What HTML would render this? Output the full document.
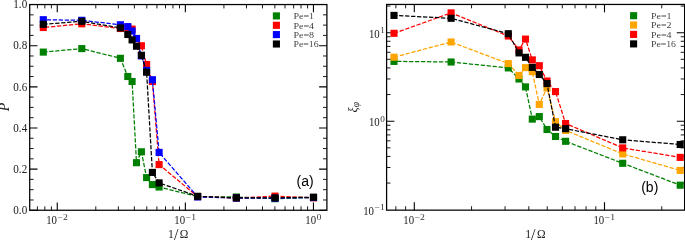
<!DOCTYPE html>
<html><head><meta charset="utf-8"><title>P and xi vs 1/Omega</title>
<style>html,body{margin:0;padding:0;background:#fff}svg{display:block}</style>
</head><body>
<svg width="685" height="241" viewBox="0 0 685 241" font-family='"Liberation Serif", serif' fill="#000">
<rect width="685" height="241" fill="#fff"/>
<path d="M57.25 210.25v-7.8M57.25 4.55v7.8M185.35 210.25v-7.8M185.35 4.55v7.8M313.45 210.25v-7.8M313.45 4.55v7.8" stroke="#000" stroke-width="1.1" fill="none"/>
<path d="M37.41 210.25v-3.9M37.41 4.55v3.9M44.84 210.25v-3.9M44.84 4.55v3.9M51.39 210.25v-3.9M51.39 4.55v3.9M95.81 210.25v-3.9M95.81 4.55v3.9M118.37 210.25v-3.9M118.37 4.55v3.9M134.37 210.25v-3.9M134.37 4.55v3.9M146.79 210.25v-3.9M146.79 4.55v3.9M156.93 210.25v-3.9M156.93 4.55v3.9M165.51 210.25v-3.9M165.51 4.55v3.9M172.94 210.25v-3.9M172.94 4.55v3.9M179.49 210.25v-3.9M179.49 4.55v3.9M223.91 210.25v-3.9M223.91 4.55v3.9M246.47 210.25v-3.9M246.47 4.55v3.9M262.47 210.25v-3.9M262.47 4.55v3.9M274.89 210.25v-3.9M274.89 4.55v3.9M285.03 210.25v-3.9M285.03 4.55v3.9M293.61 210.25v-3.9M293.61 4.55v3.9M301.04 210.25v-3.9M301.04 4.55v3.9M307.59 210.25v-3.9M307.59 4.55v3.9" stroke="#000" stroke-width="0.9" fill="none"/>
<path d="M29.70 210.25h7.8M326.90 210.25h-7.8M29.70 169.11h7.8M326.90 169.11h-7.8M29.70 127.97h7.8M326.90 127.97h-7.8M29.70 86.83h7.8M326.90 86.83h-7.8M29.70 45.69h7.8M326.90 45.69h-7.8M29.70 4.55h7.8M326.90 4.55h-7.8" stroke="#000" stroke-width="1.1" fill="none"/>
<path d="M29.70 199.97h3.9M326.90 199.97h-3.9M29.70 189.68h3.9M326.90 189.68h-3.9M29.70 179.39h3.9M326.90 179.39h-3.9M29.70 158.82h3.9M326.90 158.82h-3.9M29.70 148.54h3.9M326.90 148.54h-3.9M29.70 138.25h3.9M326.90 138.25h-3.9M29.70 117.69h3.9M326.90 117.69h-3.9M29.70 107.40h3.9M326.90 107.40h-3.9M29.70 97.11h3.9M326.90 97.11h-3.9M29.70 76.55h3.9M326.90 76.55h-3.9M29.70 66.26h3.9M326.90 66.26h-3.9M29.70 55.98h3.9M326.90 55.98h-3.9M29.70 35.41h3.9M326.90 35.41h-3.9M29.70 25.12h3.9M326.90 25.12h-3.9M29.70 14.84h3.9M326.90 14.84h-3.9" stroke="#000" stroke-width="0.9" fill="none"/>
<g>
<polyline points="43.30,52.10 81.80,48.60 120.40,58.30 127.80,76.50 132.10,81.50 136.50,162.70 141.40,151.80 146.60,177.60 152.40,184.60 159.10,187.00 197.60,196.60" fill="none" stroke="#008000" stroke-width="1.25" stroke-dasharray="4.3 1.68" stroke-dashoffset="0"/><polyline points="197.60,196.60 236.40,197.00 275.00,198.70 313.50,197.50" fill="none" stroke="#008000" stroke-width="1.25" stroke-dasharray="4.3 1.68" stroke-dashoffset="0.75"/><rect x="39.75" y="48.55" width="7.1" height="7.1" fill="#008000"/><rect x="78.25" y="45.05" width="7.1" height="7.1" fill="#008000"/><rect x="116.85" y="54.75" width="7.1" height="7.1" fill="#008000"/><rect x="124.25" y="72.95" width="7.1" height="7.1" fill="#008000"/><rect x="128.55" y="77.95" width="7.1" height="7.1" fill="#008000"/><rect x="132.95" y="159.15" width="7.1" height="7.1" fill="#008000"/><rect x="137.85" y="148.25" width="7.1" height="7.1" fill="#008000"/><rect x="143.05" y="174.05" width="7.1" height="7.1" fill="#008000"/><rect x="148.85" y="181.05" width="7.1" height="7.1" fill="#008000"/><rect x="155.55" y="183.45" width="7.1" height="7.1" fill="#008000"/><rect x="194.05" y="193.05" width="7.1" height="7.1" fill="#008000"/><rect x="232.85" y="193.45" width="7.1" height="7.1" fill="#008000"/><rect x="271.45" y="195.15" width="7.1" height="7.1" fill="#008000"/><rect x="309.95" y="193.95" width="7.1" height="7.1" fill="#008000"/>
<polyline points="43.30,27.50 81.80,23.80 120.40,28.50 127.80,27.60 132.10,29.10 136.50,38.50 141.40,45.75 146.60,64.50 152.40,81.50 159.10,164.60 197.60,196.60" fill="none" stroke="#ff0000" stroke-width="1.25" stroke-dasharray="4.3 1.68" stroke-dashoffset="4.25"/><polyline points="197.60,196.60 236.40,198.00 275.00,196.10 313.50,197.80" fill="none" stroke="#ff0000" stroke-width="1.25" stroke-dasharray="4.3 1.68" stroke-dashoffset="0.75"/><rect x="39.75" y="23.95" width="7.1" height="7.1" fill="#ff0000"/><rect x="78.25" y="20.25" width="7.1" height="7.1" fill="#ff0000"/><rect x="116.85" y="24.95" width="7.1" height="7.1" fill="#ff0000"/><rect x="124.25" y="24.05" width="7.1" height="7.1" fill="#ff0000"/><rect x="128.55" y="25.55" width="7.1" height="7.1" fill="#ff0000"/><rect x="132.95" y="34.95" width="7.1" height="7.1" fill="#ff0000"/><rect x="137.85" y="42.20" width="7.1" height="7.1" fill="#ff0000"/><rect x="143.05" y="60.95" width="7.1" height="7.1" fill="#ff0000"/><rect x="148.85" y="77.95" width="7.1" height="7.1" fill="#ff0000"/><rect x="155.55" y="161.05" width="7.1" height="7.1" fill="#ff0000"/><rect x="194.05" y="193.05" width="7.1" height="7.1" fill="#ff0000"/><rect x="232.85" y="194.45" width="7.1" height="7.1" fill="#ff0000"/><rect x="271.45" y="192.55" width="7.1" height="7.1" fill="#ff0000"/><rect x="309.95" y="194.25" width="7.1" height="7.1" fill="#ff0000"/>
<polyline points="43.30,19.70 81.80,20.30 120.40,24.75 127.80,26.60 132.10,31.00 136.50,38.50 141.40,55.90 146.60,70.40 152.40,79.75 159.10,152.40 197.60,196.90" fill="none" stroke="#0000ff" stroke-width="1.25" stroke-dasharray="4.3 1.68" stroke-dashoffset="2.5"/><polyline points="197.60,196.90 236.40,198.00 275.00,198.20 313.50,197.50" fill="none" stroke="#0000ff" stroke-width="1.25" stroke-dasharray="4.3 1.68" stroke-dashoffset="0.75"/><rect x="39.75" y="16.15" width="7.1" height="7.1" fill="#0000ff"/><rect x="78.25" y="16.75" width="7.1" height="7.1" fill="#0000ff"/><rect x="116.85" y="21.20" width="7.1" height="7.1" fill="#0000ff"/><rect x="124.25" y="23.05" width="7.1" height="7.1" fill="#0000ff"/><rect x="128.55" y="27.45" width="7.1" height="7.1" fill="#0000ff"/><rect x="132.95" y="34.95" width="7.1" height="7.1" fill="#0000ff"/><rect x="137.85" y="52.35" width="7.1" height="7.1" fill="#0000ff"/><rect x="143.05" y="66.85" width="7.1" height="7.1" fill="#0000ff"/><rect x="148.85" y="76.20" width="7.1" height="7.1" fill="#0000ff"/><rect x="155.55" y="148.85" width="7.1" height="7.1" fill="#0000ff"/><rect x="194.05" y="193.35" width="7.1" height="7.1" fill="#0000ff"/><rect x="232.85" y="194.45" width="7.1" height="7.1" fill="#0000ff"/><rect x="271.45" y="194.65" width="7.1" height="7.1" fill="#0000ff"/><rect x="309.95" y="193.95" width="7.1" height="7.1" fill="#0000ff"/>
<polyline points="43.30,24.30 81.80,21.30 120.40,27.90 127.80,34.50 132.10,39.90 136.50,46.20 141.40,55.25 146.60,72.20 152.40,172.40 159.10,182.90 197.60,196.30" fill="none" stroke="#000000" stroke-width="1.25" stroke-dasharray="4.3 1.68" stroke-dashoffset="0"/><polyline points="197.60,196.30 236.40,197.90 275.00,197.90 313.50,197.20" fill="none" stroke="#000000" stroke-width="1.25" stroke-dasharray="4.3 1.68" stroke-dashoffset="0.75"/><rect x="39.75" y="20.75" width="7.1" height="7.1" fill="#000000"/><rect x="78.25" y="17.75" width="7.1" height="7.1" fill="#000000"/><rect x="116.85" y="24.35" width="7.1" height="7.1" fill="#000000"/><rect x="124.25" y="30.95" width="7.1" height="7.1" fill="#000000"/><rect x="128.55" y="36.35" width="7.1" height="7.1" fill="#000000"/><rect x="132.95" y="42.65" width="7.1" height="7.1" fill="#000000"/><rect x="137.85" y="51.70" width="7.1" height="7.1" fill="#000000"/><rect x="143.05" y="68.65" width="7.1" height="7.1" fill="#000000"/><rect x="148.85" y="168.85" width="7.1" height="7.1" fill="#000000"/><rect x="155.55" y="179.35" width="7.1" height="7.1" fill="#000000"/><rect x="194.05" y="192.75" width="7.1" height="7.1" fill="#000000"/><rect x="232.85" y="194.35" width="7.1" height="7.1" fill="#000000"/><rect x="271.45" y="194.35" width="7.1" height="7.1" fill="#000000"/><rect x="309.95" y="193.65" width="7.1" height="7.1" fill="#000000"/>
</g>
<rect x="29.7" y="4.55" width="297.20" height="205.70" fill="none" stroke="#000" stroke-width="1.25"/>
<text x="27.2" y="213.95" font-size="11.6" fill="#222" text-anchor="end" textLength="13.9" lengthAdjust="spacingAndGlyphs">0.0</text>
<text x="27.2" y="172.81" font-size="11.6" fill="#222" text-anchor="end" textLength="13.9" lengthAdjust="spacingAndGlyphs">0.2</text>
<text x="27.2" y="131.67" font-size="11.6" fill="#222" text-anchor="end" textLength="13.9" lengthAdjust="spacingAndGlyphs">0.4</text>
<text x="27.2" y="90.53" font-size="11.6" fill="#222" text-anchor="end" textLength="13.9" lengthAdjust="spacingAndGlyphs">0.6</text>
<text x="27.2" y="49.39" font-size="11.6" fill="#222" text-anchor="end" textLength="13.9" lengthAdjust="spacingAndGlyphs">0.8</text>
<text x="27.2" y="8.25" font-size="11.6" fill="#222" text-anchor="end" textLength="13.9" lengthAdjust="spacingAndGlyphs">1.0</text>
<text x="46.20" y="224.30" fill="#222" font-size="11.6" textLength="10.8" lengthAdjust="spacingAndGlyphs">10</text><text x="57.60" y="220.10" fill="#333" font-size="8.2" textLength="10.3" lengthAdjust="spacingAndGlyphs">−2</text>
<text x="174.30" y="224.30" fill="#222" font-size="11.6" textLength="10.8" lengthAdjust="spacingAndGlyphs">10</text><text x="185.70" y="220.10" fill="#333" font-size="8.2" textLength="10.3" lengthAdjust="spacingAndGlyphs">−1</text>
<text x="305.25" y="224.30" fill="#222" font-size="11.6" textLength="10.8" lengthAdjust="spacingAndGlyphs">10</text><text x="316.65" y="220.10" fill="#333" font-size="8.2" textLength="4.6" lengthAdjust="spacingAndGlyphs">0</text>
<text y="237.6" fill="#222" font-size="11.8"><tspan x="168.10">1</tspan><tspan x="174.00" dy="2.4" font-size="16">/</tspan><tspan x="179.80" dy="-2.4" font-size="11.8" textLength="8.6" lengthAdjust="spacingAndGlyphs">Ω</tspan></text>
<text transform="translate(8.9,107.0) rotate(-90)" fill="#222" font-size="14" font-style="italic" text-anchor="middle">P</text>
<rect x="272.85" y="12.35" width="7.1" height="7.1" fill="#008000"/>
<text x="293.4" y="19.1" font-size="9.2" fill="#444" textLength="20.7" lengthAdjust="spacingAndGlyphs">Pe=1</text>
<rect x="272.85" y="21.75" width="7.1" height="7.1" fill="#ff0000"/>
<text x="293.4" y="28.5" font-size="9.2" fill="#444" textLength="20.7" lengthAdjust="spacingAndGlyphs">Pe=4</text>
<rect x="272.85" y="31.05" width="7.1" height="7.1" fill="#0000ff"/>
<text x="293.4" y="37.9" font-size="9.2" fill="#444" textLength="20.7" lengthAdjust="spacingAndGlyphs">Pe=8</text>
<rect x="272.85" y="40.45" width="7.1" height="7.1" fill="#000000"/>
<text x="293.4" y="47.3" font-size="9.2" fill="#444" textLength="25.3" lengthAdjust="spacingAndGlyphs">Pe=16</text>
<text x="296.5" y="185.9" font-size="14" font-family='"Liberation Sans", sans-serif'>(a)</text>
<path d="M414.30 210.15v-7.8M414.30 4.45v7.8M604.50 210.15v-7.8M604.50 4.45v7.8" stroke="#000" stroke-width="1.1" fill="none"/>
<path d="M395.87 210.15v-3.9M395.87 4.45v3.9M405.60 210.15v-3.9M405.60 4.45v3.9M471.56 210.15v-3.9M471.56 4.45v3.9M505.05 210.15v-3.9M505.05 4.45v3.9M528.81 210.15v-3.9M528.81 4.45v3.9M547.24 210.15v-3.9M547.24 4.45v3.9M562.30 210.15v-3.9M562.30 4.45v3.9M575.04 210.15v-3.9M575.04 4.45v3.9M586.07 210.15v-3.9M586.07 4.45v3.9M595.80 210.15v-3.9M595.80 4.45v3.9M661.76 210.15v-3.9M661.76 4.45v3.9" stroke="#000" stroke-width="0.9" fill="none"/>
<path d="M386.60 121.20h7.8M684.60 121.20h-7.8M386.60 32.70h7.8M684.60 32.70h-7.8" stroke="#000" stroke-width="1.1" fill="none"/>
<path d="M386.60 183.06h3.9M684.60 183.06h-3.9M386.60 167.47h3.9M684.60 167.47h-3.9M386.60 156.42h3.9M684.60 156.42h-3.9M386.60 147.84h3.9M684.60 147.84h-3.9M386.60 140.83h3.9M684.60 140.83h-3.9M386.60 134.91h3.9M684.60 134.91h-3.9M386.60 129.78h3.9M684.60 129.78h-3.9M386.60 125.25h3.9M684.60 125.25h-3.9M386.60 94.56h3.9M684.60 94.56h-3.9M386.60 78.97h3.9M684.60 78.97h-3.9M386.60 67.92h3.9M684.60 67.92h-3.9M386.60 59.34h3.9M684.60 59.34h-3.9M386.60 52.33h3.9M684.60 52.33h-3.9M386.60 46.41h3.9M684.60 46.41h-3.9M386.60 41.28h3.9M684.60 41.28h-3.9M386.60 36.75h3.9M684.60 36.75h-3.9M386.60 6.06h3.9M684.60 6.06h-3.9" stroke="#000" stroke-width="0.9" fill="none"/>
<g>
<polyline points="394.00,61.40 451.10,62.00 508.30,67.90 519.00,79.00 525.50,86.90 532.30,119.10 539.30,116.60 547.00,129.50 555.50,136.50 565.60,141.30 622.70,163.30 680.20,185.20" fill="none" stroke="#008000" stroke-width="1.25" stroke-dasharray="4.3 1.68" stroke-dashoffset="2.85"/><rect x="390.45" y="57.85" width="7.1" height="7.1" fill="#008000"/><rect x="447.55" y="58.45" width="7.1" height="7.1" fill="#008000"/><rect x="504.75" y="64.35" width="7.1" height="7.1" fill="#008000"/><rect x="515.45" y="75.45" width="7.1" height="7.1" fill="#008000"/><rect x="521.95" y="83.35" width="7.1" height="7.1" fill="#008000"/><rect x="528.75" y="115.55" width="7.1" height="7.1" fill="#008000"/><rect x="535.75" y="113.05" width="7.1" height="7.1" fill="#008000"/><rect x="543.45" y="125.95" width="7.1" height="7.1" fill="#008000"/><rect x="551.95" y="132.95" width="7.1" height="7.1" fill="#008000"/><rect x="562.05" y="137.75" width="7.1" height="7.1" fill="#008000"/><rect x="619.15" y="159.75" width="7.1" height="7.1" fill="#008000"/><rect x="676.65" y="181.65" width="7.1" height="7.1" fill="#008000"/>
<polyline points="394.00,57.20 451.10,42.00 508.30,63.60 519.00,75.50 525.50,67.60 532.30,71.70 539.30,104.40 547.00,87.90 555.50,121.70 565.60,130.40 622.70,153.90 680.20,170.40" fill="none" stroke="#ffa500" stroke-width="1.25" stroke-dasharray="4.3 1.68" stroke-dashoffset="0"/><rect x="390.45" y="53.65" width="7.1" height="7.1" fill="#ffa500"/><rect x="447.55" y="38.45" width="7.1" height="7.1" fill="#ffa500"/><rect x="504.75" y="60.05" width="7.1" height="7.1" fill="#ffa500"/><rect x="515.45" y="71.95" width="7.1" height="7.1" fill="#ffa500"/><rect x="521.95" y="64.05" width="7.1" height="7.1" fill="#ffa500"/><rect x="528.75" y="68.15" width="7.1" height="7.1" fill="#ffa500"/><rect x="535.75" y="100.85" width="7.1" height="7.1" fill="#ffa500"/><rect x="543.45" y="84.35" width="7.1" height="7.1" fill="#ffa500"/><rect x="551.95" y="118.15" width="7.1" height="7.1" fill="#ffa500"/><rect x="562.05" y="126.85" width="7.1" height="7.1" fill="#ffa500"/><rect x="619.15" y="150.35" width="7.1" height="7.1" fill="#ffa500"/><rect x="676.65" y="166.85" width="7.1" height="7.1" fill="#ffa500"/>
<polyline points="394.00,33.30 451.10,12.90 508.30,36.00 519.00,49.90 525.50,39.10 532.30,59.90 539.30,65.70 547.00,81.00 555.50,91.60 565.60,123.50 622.70,147.90 680.20,157.40" fill="none" stroke="#ff0000" stroke-width="1.25" stroke-dasharray="4.3 1.68" stroke-dashoffset="0"/><rect x="390.45" y="29.75" width="7.1" height="7.1" fill="#ff0000"/><rect x="447.55" y="9.35" width="7.1" height="7.1" fill="#ff0000"/><rect x="504.75" y="32.45" width="7.1" height="7.1" fill="#ff0000"/><rect x="515.45" y="46.35" width="7.1" height="7.1" fill="#ff0000"/><rect x="521.95" y="35.55" width="7.1" height="7.1" fill="#ff0000"/><rect x="528.75" y="56.35" width="7.1" height="7.1" fill="#ff0000"/><rect x="535.75" y="62.15" width="7.1" height="7.1" fill="#ff0000"/><rect x="543.45" y="77.45" width="7.1" height="7.1" fill="#ff0000"/><rect x="551.95" y="88.05" width="7.1" height="7.1" fill="#ff0000"/><rect x="562.05" y="119.95" width="7.1" height="7.1" fill="#ff0000"/><rect x="619.15" y="144.35" width="7.1" height="7.1" fill="#ff0000"/><rect x="676.65" y="153.85" width="7.1" height="7.1" fill="#ff0000"/>
<polyline points="394.00,15.40 451.10,18.30 508.30,33.70 519.00,52.90 525.50,57.30 532.30,67.40 539.30,74.50 547.00,83.60 555.50,127.20 565.60,128.70 622.70,139.80 680.20,144.50" fill="none" stroke="#000000" stroke-width="1.25" stroke-dasharray="4.3 1.68" stroke-dashoffset="0.85"/><rect x="390.45" y="11.85" width="7.1" height="7.1" fill="#000000"/><rect x="447.55" y="14.75" width="7.1" height="7.1" fill="#000000"/><rect x="504.75" y="30.15" width="7.1" height="7.1" fill="#000000"/><rect x="515.45" y="49.35" width="7.1" height="7.1" fill="#000000"/><rect x="521.95" y="53.75" width="7.1" height="7.1" fill="#000000"/><rect x="528.75" y="63.85" width="7.1" height="7.1" fill="#000000"/><rect x="535.75" y="70.95" width="7.1" height="7.1" fill="#000000"/><rect x="543.45" y="80.05" width="7.1" height="7.1" fill="#000000"/><rect x="551.95" y="123.65" width="7.1" height="7.1" fill="#000000"/><rect x="562.05" y="125.15" width="7.1" height="7.1" fill="#000000"/><rect x="619.15" y="136.25" width="7.1" height="7.1" fill="#000000"/><rect x="676.65" y="140.95" width="7.1" height="7.1" fill="#000000"/>
</g>
<rect x="386.6" y="4.45" width="298.00" height="205.70" fill="none" stroke="#000" stroke-width="1.25"/>
<text x="363.20" y="214.50" fill="#222" font-size="11.6" textLength="10.8" lengthAdjust="spacingAndGlyphs">10</text><text x="374.60" y="210.30" fill="#333" font-size="8.2" textLength="10.3" lengthAdjust="spacingAndGlyphs">−1</text>
<text x="368.90" y="126.00" fill="#222" font-size="11.6" textLength="10.8" lengthAdjust="spacingAndGlyphs">10</text><text x="380.30" y="121.80" fill="#333" font-size="8.2" textLength="4.6" lengthAdjust="spacingAndGlyphs">0</text>
<text x="368.90" y="37.50" fill="#222" font-size="11.6" textLength="10.8" lengthAdjust="spacingAndGlyphs">10</text><text x="380.30" y="33.30" fill="#333" font-size="8.2" textLength="4.6" lengthAdjust="spacingAndGlyphs">1</text>
<text x="403.25" y="224.00" fill="#222" font-size="11.6" textLength="10.8" lengthAdjust="spacingAndGlyphs">10</text><text x="414.65" y="219.80" fill="#333" font-size="8.2" textLength="10.3" lengthAdjust="spacingAndGlyphs">−2</text>
<text x="593.45" y="224.00" fill="#222" font-size="11.6" textLength="10.8" lengthAdjust="spacingAndGlyphs">10</text><text x="604.85" y="219.80" fill="#333" font-size="8.2" textLength="10.3" lengthAdjust="spacingAndGlyphs">−1</text>
<text y="237.6" fill="#222" font-size="11.8"><tspan x="525.20">1</tspan><tspan x="531.10" dy="2.4" font-size="16">/</tspan><tspan x="536.90" dy="-2.4" font-size="11.8" textLength="8.6" lengthAdjust="spacingAndGlyphs">Ω</tspan></text>
<text transform="translate(356.9,112.4) rotate(-90)" font-size="12" fill="#222" font-style="italic">ξ<tspan font-size="9.6" dy="1.9">φ</tspan></text>
<rect x="630.05" y="12.15" width="7.1" height="7.1" fill="#008000"/>
<text x="651.0" y="18.9" font-size="9.2" fill="#444" textLength="20.5" lengthAdjust="spacingAndGlyphs">Pe=1</text>
<rect x="630.05" y="21.45" width="7.1" height="7.1" fill="#ffa500"/>
<text x="651.0" y="28.3" font-size="9.2" fill="#444" textLength="20.5" lengthAdjust="spacingAndGlyphs">Pe=2</text>
<rect x="630.05" y="30.85" width="7.1" height="7.1" fill="#ff0000"/>
<text x="651.0" y="37.7" font-size="9.2" fill="#444" textLength="20.5" lengthAdjust="spacingAndGlyphs">Pe=4</text>
<rect x="630.05" y="40.35" width="7.1" height="7.1" fill="#000000"/>
<text x="651.0" y="47.1" font-size="9.2" fill="#444" textLength="25.0" lengthAdjust="spacingAndGlyphs">Pe=16</text>
<text x="641.2" y="191.8" font-size="14" font-family='"Liberation Sans", sans-serif'>(b)</text>
</svg>
</body></html>
